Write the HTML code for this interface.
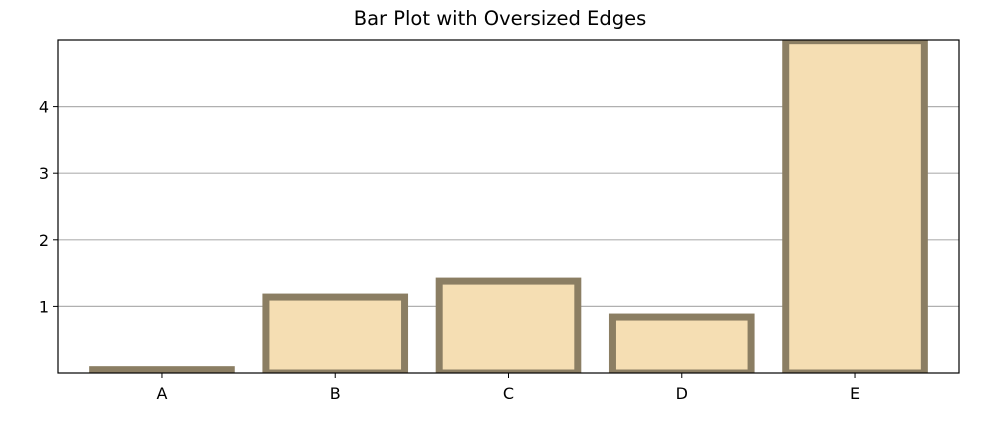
<!DOCTYPE html>
<html><head><meta charset="utf-8"><style>
html,body{margin:0;padding:0;background:#fff;}
svg text{font-family:"DejaVu Sans","Liberation Sans",sans-serif;}
</style></head><body>
<svg id="chart" width="1000" height="437" xmlns="http://www.w3.org/2000/svg">
<text x="500" y="25" text-anchor="middle" font-size="19.5" fill="#000">Bar Plot with Oversized Edges</text>
<g id="grid"></g><g id="bars"></g><g id="axes"></g>
</svg>
<script>
const categories = ["A","B","C","D","E"];
const values = [0.05, 1.14, 1.38, 0.84, 4.99];
const yTicks = [1,2,3,4];
const L=58,R=959,T=40,B=373, yMax=5.0, xMin=-0.6, xMax=4.6;
const ns="http://www.w3.org/2000/svg";
function xs(v){return L+(v-xMin)/(xMax-xMin)*(R-L);}
function ys(v){return B-v/yMax*(B-T);}
function mk(tag,attrs,parent){const e=document.createElementNS(ns,tag);for(const k in attrs)e.setAttribute(k,attrs[k]);parent.appendChild(e);return e;}
const grid=document.getElementById('grid'),bars=document.getElementById('bars'),axes=document.getElementById('axes');
const defs=mk('defs',{},document.getElementById('chart'));
const cp=mk('clipPath',{id:'clip'},defs);mk('rect',{x:L,y:T,width:R-L,height:B-T},cp);
bars.setAttribute('clip-path','url(#clip)');
yTicks.forEach(t=>{
  const y=ys(t);
  const g=mk('line',{x1:L,x2:R,y1:y,y2:y,stroke:'#b0b0b0','stroke-width':1.2},grid);
  
  
  mk('line',{x1:L-5,x2:L,y1:y,y2:y,stroke:'#000','stroke-width':1},axes);
  const tx=mk('text',{x:L-9,y:y+6,'text-anchor':'end','font-size':16,fill:'#000'},axes);
  tx.textContent=t;
  
  
});
categories.forEach((c,i)=>{
  const x0=xs(i-0.4),x1=xs(i+0.4),y=ys(values[i]);
  const r=mk('rect',{x:x0,y:y,width:x1-x0,height:B-y,fill:'#f5deb3',stroke:'#8b7e63','stroke-width':7},bars);
  
  
  const cx=xs(i);
  mk('line',{x1:cx,x2:cx,y1:B,y2:B+5,stroke:'#000','stroke-width':1},axes);
  const tx=mk('text',{x:cx,y:B+26,'text-anchor':'middle','font-size':16,fill:'#000'},axes);
  tx.textContent=c;
  
  
});
const fr=mk('rect',{x:L,y:T,width:R-L,height:B-T,fill:'none',stroke:'#000','stroke-width':1.2},axes);


</script>
</body></html>
